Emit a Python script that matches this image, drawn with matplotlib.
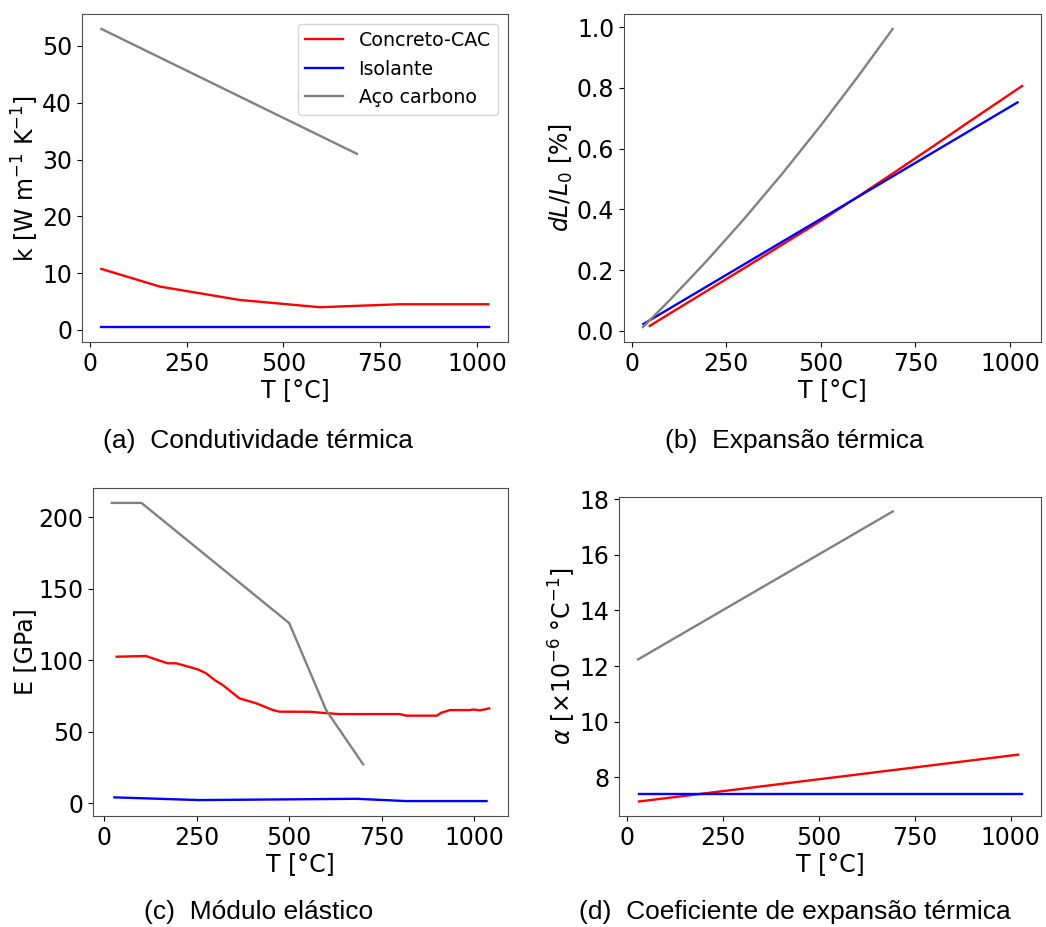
import matplotlib
matplotlib.use("Agg")
import matplotlib.pyplot as plt

# (a) thermal conductivity
k_cac_T = [30, 181, 387, 594, 800, 1029]
k_cac = [10.74, 7.63, 5.28, 4.0, 4.52, 4.52]
k_iso_T = [30, 1030]
k_iso = [0.5, 0.5]
k_aco_T = [30, 690]
k_aco = [53.0, 31.0]

# (b) thermal expansion dL/L0 [%]
dl_cac_T = [48, 100, 200, 300, 400, 500, 600, 700, 800, 900, 1032]
dl_cac = [0.016, 0.056, 0.132, 0.208, 0.285, 0.362, 0.443, 0.526, 0.610, 0.695, 0.806]
dl_iso_T = [31, 1020]
dl_iso = [0.022, 0.752]
dl_aco_T = [30, 100, 200, 300, 400, 500, 600, 690]
dl_aco = [0.012, 0.100, 0.232, 0.372, 0.520, 0.676, 0.840, 0.994]

# (c) elastic modulus [GPa]
e_cac_T = [33, 112, 171, 194, 252, 275, 298, 320, 365, 411, 456, 474, 555, 609,
           637, 799, 817, 899, 912, 935, 989, 998, 1016, 1041]
e_cac = [102.5, 103, 97.9, 97.9, 93.7, 90.9, 86.2, 82.7, 73.4, 69.9, 65.2, 64.1,
         64.0, 62.9, 62.4, 62.4, 61.3, 61.3, 63.4, 65.2, 65.2, 65.6, 65.0, 66.4]
e_iso_T = [27, 257, 682, 817, 1034]
e_iso = [4.2, 2.3, 3.2, 1.6, 1.6]
e_aco_T = [20, 100, 200, 300, 400, 500, 600, 700]
e_aco = [210, 210, 189, 168, 147, 126, 65.1, 27.3]

# (d) coefficient of thermal expansion [x1e-6 /°C]
a_cac_T = [30, 1019]
a_cac = [7.125, 8.81]
a_iso_T = [30, 1029]
a_iso = [7.39, 7.39]
a_aco_T = [28, 692]
a_aco = [12.24, 17.56]

labels = ["Concreto-CAC", "Isolante", "Aço carbono"]
colors = ["red", "blue", "gray"]

W, H = 1046, 927
fig = plt.figure(figsize=(W / 100, H / 100), dpi=100)


def box(l, r, t, b):
    return [l / W, (H - b) / H, (r - l) / W, (b - t) / H]


panels = [
    (box(82, 508, 14, 342), (k_cac_T, k_cac), (k_iso_T, k_iso), (k_aco_T, k_aco),
     r"k [W m$^{-1}$ K$^{-1}$]", [0, 10, 20, 30, 40, 50]),
    (box(624, 1041, 14, 342), (dl_cac_T, dl_cac), (dl_iso_T, dl_iso), (dl_aco_T, dl_aco),
     r"$dL/L_0$ [%]", [0.0, 0.2, 0.4, 0.6, 0.8, 1.0]),
    (box(93, 508, 488, 816), (e_cac_T, e_cac), (e_iso_T, e_iso), (e_aco_T, e_aco),
     "E [GPa]", [0, 50, 100, 150, 200]),
    (box(619, 1041, 497, 816), (a_cac_T, a_cac), (a_iso_T, a_iso), (a_aco_T, a_aco),
     r"$\alpha$ [$\times$10$^{-6}$ °C$^{-1}$]", [8, 10, 12, 14, 16, 18]),
]

axes = []
for pos, cac, iso, aco, ylab, yt in panels:
    ax = fig.add_axes(pos)
    for (x, y), c, lab in zip([cac, iso, aco], colors, labels):
        ax.plot(x, y, color=c, lw=1.7, label=lab)
    ax.set_xlabel("T [°C]", fontsize=17, labelpad=2)
    ax.set_ylabel(ylab, fontsize=17, labelpad=1)
    ax.set_xticks([0, 250, 500, 750, 1000])
    ax.set_yticks(yt)
    ax.tick_params(labelsize=17)
    for s in ax.spines.values():
        s.set_color("0.3")
    axes.append(ax)

axes[0].legend(loc="upper right", fontsize=13.7)

captions = [
    (258, 448, "(a)  Condutividade térmica"),
    (794, 448, "(b)  Expansão térmica"),
    (259, 919, "(c)  Módulo elástico"),
    (795, 919, "(d)  Coeficiente de expansão térmica"),
]
for cx, cy, txt in captions:
    fig.text(cx / W, 1 - cy / H, txt, ha="center", va="baseline",
             fontsize=19, family="Liberation Sans")

fig.savefig("out.png", dpi=100)
